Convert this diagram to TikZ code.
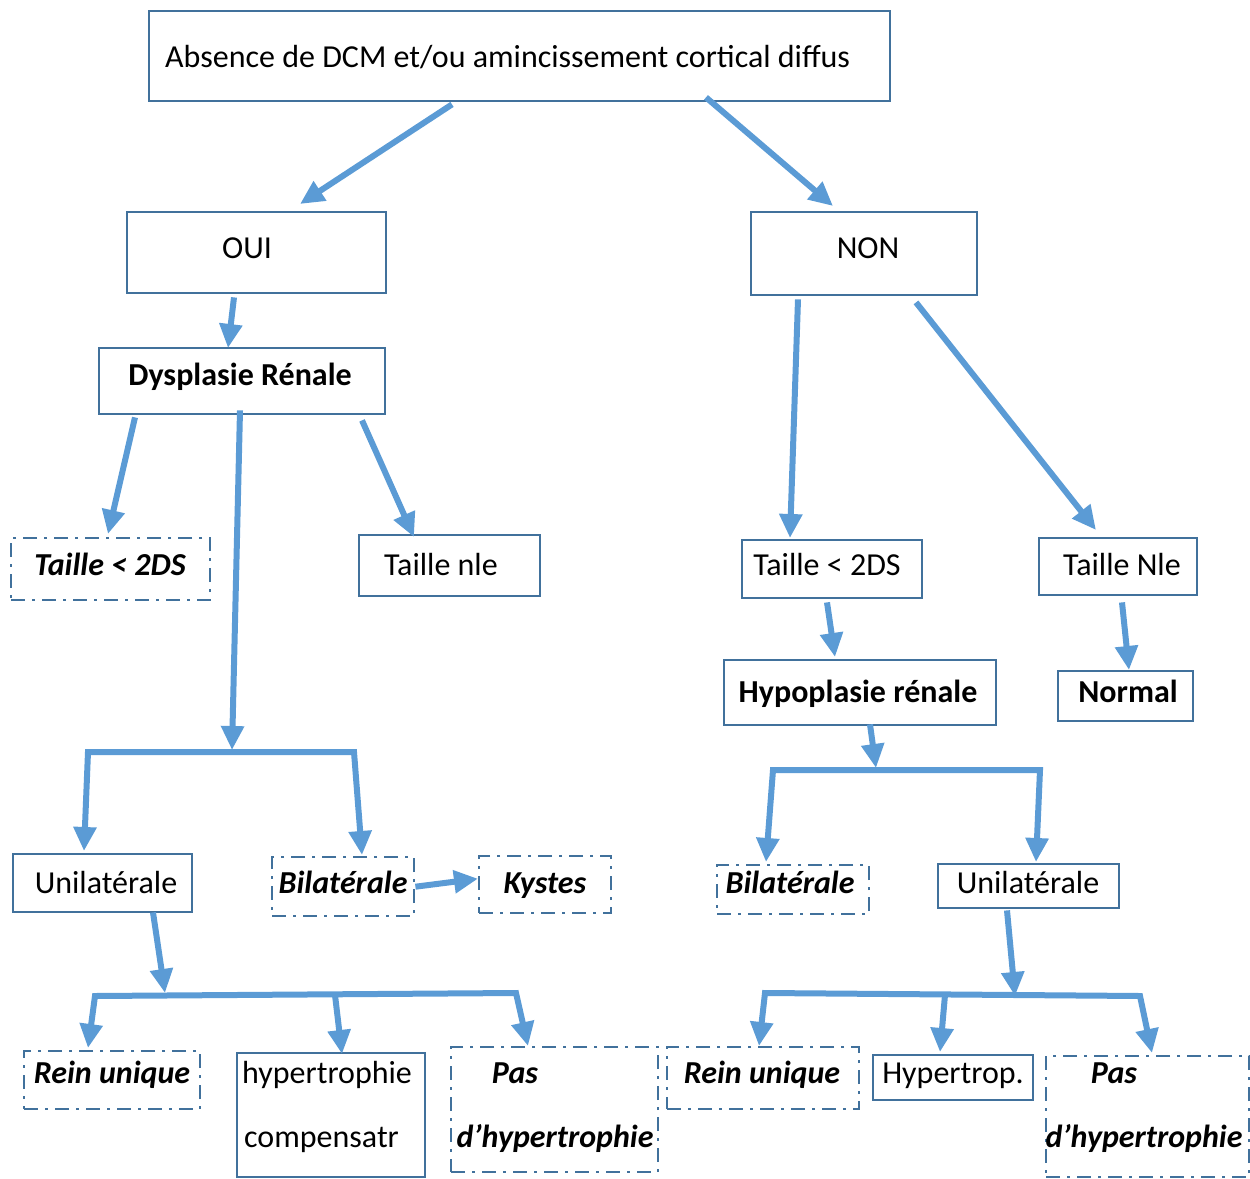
\documentclass[tikz,border=0pt]{standalone}
\usepackage{fontspec}
\setmainfont{Carlito}
\usetikzlibrary{arrows.meta,calc}
\definecolor{arrc}{HTML}{5B9BD5}
\definecolor{boxc}{HTML}{41719C}
\tikzset{
 box/.style={draw=boxc,line width=2.4pt,rectangle,anchor=north west,inner sep=0pt},
 ddbox/.style={box,dash pattern=on 14pt off 7pt on 3pt off 7pt},
 txt/.style={font=\fontsize{32}{38}\selectfont,inner sep=0pt,anchor=mid,yshift=-8pt},
 bi/.style={font=\fontsize{32}{38}\selectfont\bfseries\itshape},
 bf/.style={font=\fontsize{32}{38}\selectfont\bfseries},
 arr/.style={draw=arrc,line width=6pt,-{Triangle[length=24pt,width=22pt]}},
 brk/.style={draw=arrc,line width=6pt,line join=miter,{Triangle[length=24pt,width=22pt]}-{Triangle[length=24pt,width=22pt]}},
}
\begin{document}
\begin{tikzpicture}[x=1pt,y=-1pt]
\useasboundingbox (0,0) rectangle (1250,1178);
% boxes
\node[box,minimum width=741pt,minimum height=90pt] (top) at (148,10) {};
\node[box,minimum width=259pt,minimum height=81pt] (oui) at (126,211) {};
\node[box,minimum width=226pt,minimum height=83pt] (non) at (750,211) {};
\node[box,minimum width=286pt,minimum height=66pt] (dys) at (98,347) {};
\node[ddbox,minimum width=199pt,minimum height=62pt] (tl) at (10,537) {};
\node[box,minimum width=181pt,minimum height=61pt] (tn) at (358,534) {};
\node[box,minimum width=180pt,minimum height=58pt] (tr) at (741,539) {};
\node[box,minimum width=158pt,minimum height=57pt] (tN) at (1038,537) {};
\node[box,minimum width=272pt,minimum height=65pt] (hyp) at (723,659) {};
\node[box,minimum width=135pt,minimum height=50pt] (nor) at (1057,670) {};
\node[box,minimum width=179pt,minimum height=58pt] (unl) at (12,853) {};
\node[ddbox,minimum width=142pt,minimum height=59pt] (bil) at (271,856) {};
\node[ddbox,minimum width=132pt,minimum height=57pt] (kys) at (478,855) {};
\node[ddbox,minimum width=152pt,minimum height=49pt] (bir) at (716,864) {};
\node[box,minimum width=181pt,minimum height=44pt] (unr) at (937,863) {};
\node[ddbox,minimum width=176pt,minimum height=58pt] (rul) at (23,1050) {};
\node[box,minimum width=188pt,minimum height=124pt] (hyc) at (236,1052) {};
\node[ddbox,minimum width=207pt,minimum height=125pt] (pal) at (450,1046) {};
\node[ddbox,minimum width=192pt,minimum height=62pt] (rur) at (666,1046) {};
\node[box,minimum width=160pt,minimum height=45pt] (hyr) at (872,1054) {};
\node[ddbox,minimum width=203pt,minimum height=121pt] (par) at (1045,1055) {};
% texts
\node[txt,anchor=mid west] (ttop) at (165,57) {Absence de DCM et/ou amincissement cortical diffus};
\node[txt] (toui) at (247,248) {OUI};
\node[txt] (tnon) at (868,248) {NON};
\node[txt,bf] (tdys) at (240,375) {Dysplasie Rénale};
\node[txt,bi] (ttl) at (110,565) {Taille < 2DS};
\node[txt] (ttn) at (441,565) {Taille nle};
\node[txt] (ttr) at (827,565) {Taille < 2DS};
\node[txt] (ttN) at (1122,565) {Taille Nle};
\node[txt,bf] (thyp) at (858,692) {Hypoplasie rénale};
\node[txt,bf] (tnor) at (1128,692) {Normal};
\node[txt] (tunl) at (106,883) {Unilatérale};
\node[txt,bi] (tbil) at (343,883) {Bilatérale};
\node[txt,bi] (tkys) at (545,883) {Kystes};
\node[txt,bi] (tbir) at (790,883) {Bilatérale};
\node[txt] (tunr) at (1028,883) {Unilatérale};
\node[txt,bi] (trul) at (112,1073) {Rein unique};
\node[txt,anchor=mid west] (thyc1) at (242,1073) {hypertrophie};
\node[txt,anchor=mid west] (thyc2) at (244,1137) {compensatr};
\node[txt,bi] (tpal1) at (515,1073) {Pas};
\node[txt,bi] (tpal2) at (555,1137) {d’hypertrophie};
\node[txt,bi] (trur) at (762,1073) {Rein unique};
\node[txt] (thyr) at (953,1073) {Hypertrop.};
\node[txt,bi] (tpar1) at (1114,1073) {Pas};
\node[txt,bi] (tpar2) at (1144,1137) {d’hypertrophie};
% bracket coordinates
\coordinate (b1m) at (232,750);
\coordinate (b1l) at (88,752);
\coordinate (b1r) at (354,752);
\coordinate (b2m) at (165,993);
\coordinate (b2l) at (95,996);
\coordinate (b2c) at (335,995);
\coordinate (b2r) at (516,993);
\coordinate (b3m) at (876,768);
\coordinate (b3l) at (773,770);
\coordinate (b3r) at (1040,770);
\coordinate (b4m) at (1015,996);
\coordinate (b4l) at (765,993);
\coordinate (b4c) at (945,995);
\coordinate (b4r) at (1140,996);
% connectors
\draw[arr] ($(top.south west)+(304,2)$) -- ($(oui.north west)+(174,-7)$);
\draw[arr] ($(top.south west)+(558,-5)$) -- ($(non.north west)+(83,-5)$);
\draw[arr] ($(oui.south west)+(108,3)$) -- ($(dys.north west)+(130,1)$);
\draw[arr] ($(dys.south west)+(37,2)$) -- ($(tl.north west)+(98,-3)$);
\draw[arr] ($(dys.south west)+(264,5)$) -- ($(tn.north west)+(56,3)$);
\draw[arr] ($(dys.south west)+(142,-5)$) -- (b1m);
\draw[brk] ($(unl.north west)+(72,-2)$) -- (b1l) -- (b1r) -- ($(bil.north west)+(91,-1)$);
\draw[arr] (bil.east) -- ($(kys.west)+(0,-6)$);
\draw[arr] ($(unl.south west)+(141,-1)$) -- (b2m);
\draw[brk] ($(rul.north west)+(65,-2)$) -- (b2l) -- (b2r) -- ($(pal.north west)+(78,0)$);
\draw[arr] (b2c) -- ($(hyc.north west)+(106,2)$);
\draw[arr] ($(non.south west)+(48,3)$) -- ($(tr.north west)+(49,-1)$);
\draw[arr] ($(non.south west)+(166,6)$) -- ($(tN.north west)+(58,-7)$);
\draw[arr] ($(tr.south west)+(86,3)$) -- ($(hyp.north west)+(112,-2)$);
\draw[arr] ($(tN.south west)+(84,6)$) -- ($(nor.north west)+(72,0)$);
\draw[arr] ($(hyp.south west)+(147,-2)$) -- (b3m);
\draw[brk] ($(bir.north west)+(50,-2)$) -- (b3l) -- (b3r) -- ($(unr.north west)+(99,-1)$);
\draw[arr] ($(unr.south west)+(70,1)$) -- (b4m);
\draw[brk] ($(rur.north west)+(93,0)$) -- (b4l) -- (b4r) -- ($(par.north west)+(107,-2)$);
\draw[arr] (b4c) -- ($(hyr.north west)+(68,-2)$);
\end{tikzpicture}
\end{document}
